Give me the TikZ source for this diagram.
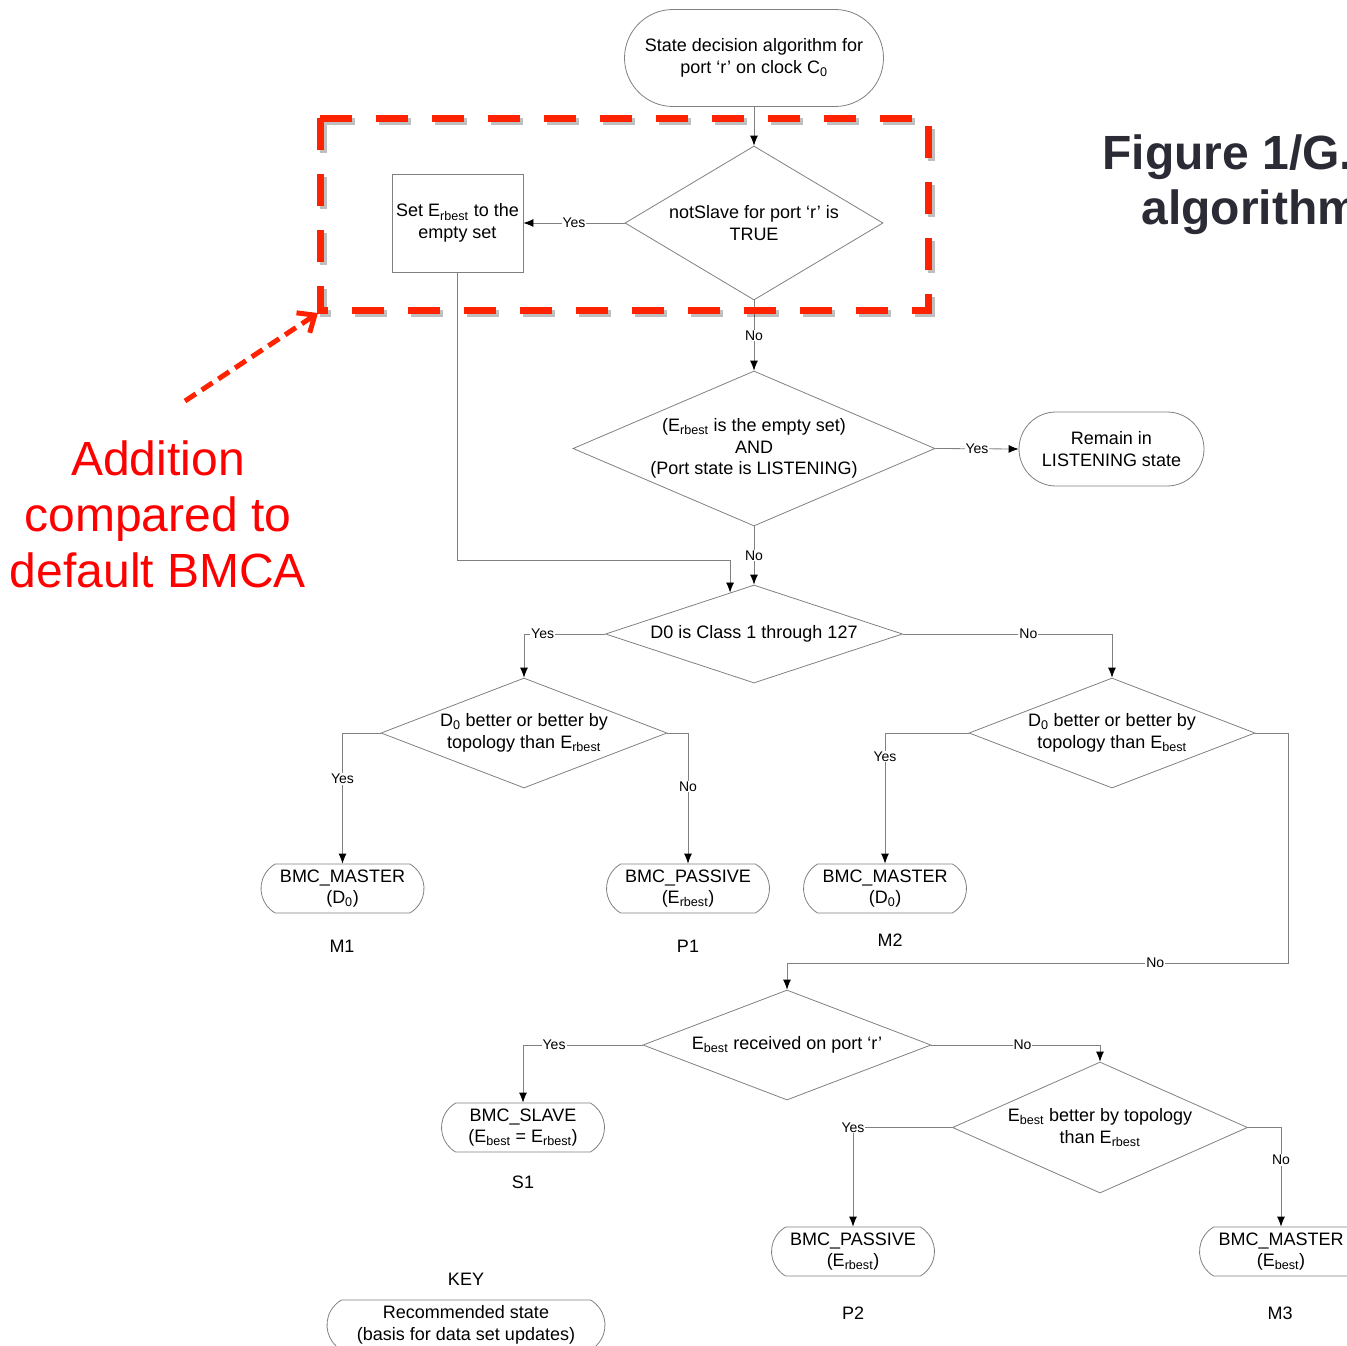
\documentclass[tikz,border=0pt]{standalone}
\usepackage{fontspec}
\setmainfont{Liberation Sans}
\usetikzlibrary{shapes.geometric,shapes.misc,arrows.meta}
\definecolor{linegray}{HTML}{808080}
\definecolor{boxred}{HTML}{FF2200}
\definecolor{titlegray}{HTML}{2B2B36}
\tikzset{>={Latex[length=10pt,width=8pt,color=black]}}
\tikzset{
  decision/.style={diamond, draw=linegray, line width=0.8pt, inner sep=0pt, align=center},
  process/.style={rectangle, draw=linegray, line width=0.8pt, inner sep=2pt, align=center},
  startstop/.style={rounded rectangle, draw=linegray, line width=0.8pt, inner sep=2pt, align=center},
  leaf/.style={rounded rectangle, rounded rectangle arc length=120, draw=linegray, line width=0.8pt,
    inner sep=1pt, align=center, minimum width=165, minimum height=49},
  conn/.style={draw=linegray, line width=0.8pt},
  lbl/.style={fill=white, inner sep=1pt, font=\fontsize{14}{16}\selectfont},
  tag/.style={inner sep=0pt},
  addbox/.style={draw=boxred, line width=7pt, dash pattern=on 32pt off 24pt},
  addshadow/.style={draw=black, opacity=0.25, line width=7pt, dash pattern=on 32pt off 24pt},
  addarrow/.style={draw=boxred, line width=5pt, dash pattern=on 13pt off 7pt,
    -{Straight Barb[length=14pt,width=24pt,line width=5pt]}},
  notetext/.style={text=red, align=center, font=\fontsize{48}{56}\selectfont},
  titletext/.style={text=titlegray, anchor=west, font=\fontsize{48}{55}\bfseries},
}

\begin{document}
\begin{tikzpicture}[x=1pt, y=-1pt, font=\fontsize{18}{21.5}\selectfont]
  \useasboundingbox (0,0) rectangle (1347,1346);

  \node[titletext] (title1) at (1099,157) {Figure 1/G.};
  \node[titletext] (title2) at (1138,212) {algorithm};

  \node[startstop, minimum width=263, minimum height=97] (start) at (754,58)
    {State decision algorithm for\\port `r' on clock C\textsubscript{0}};
  \node[decision, minimum width=258, minimum height=154, aspect=1.67] (d1) at (754,223)
    {notSlave for port `r' is\\TRUE};
  \node[process, minimum width=131, minimum height=98] (setbox) at (457.5,223)
    {Set E\textsubscript{rbest} to the\\empty set};
  \node[decision, minimum width=362, minimum height=155, aspect=2.34] (d2) at (754,448.5)
    {(E\textsubscript{rbest} is the empty set)\\AND\\(Port state is LISTENING)};
  \node[startstop, minimum width=189, minimum height=74] (listen) at (1111.5,449)
    {Remain in\\LISTENING state};
  \node[decision, minimum width=297, minimum height=98, aspect=3.03] (d3) at (754,634)
    {D0 is Class 1 through 127};
  \node[decision, minimum width=286, minimum height=110, aspect=2.6] (d4) at (524,733)
    {D\textsubscript{0} better or better by\\topology than E\textsubscript{rbest}};
  \node[decision, minimum width=286, minimum height=110, aspect=2.6] (d5) at (1112,733)
    {D\textsubscript{0} better or better by\\topology than E\textsubscript{best}};

  \node[leaf] (m1) at (342.5,888.5) {BMC\_MASTER\\(D\textsubscript{0})};
  \node[leaf] (p1) at (688,888.5) {BMC\_PASSIVE\\(E\textsubscript{rbest})};
  \node[leaf] (m2) at (885,888.5) {BMC\_MASTER\\(D\textsubscript{0})};
  \node[tag] (m1tag) at (342,946) {M1};
  \node[tag] (p1tag) at (688,946) {P1};
  \node[tag] (m2tag) at (890,940) {M2};

  \node[decision, minimum width=288, minimum height=110, aspect=2.6] (d6) at (787,1045)
    {E\textsubscript{best} received on port `r'};
  \node[leaf] (s1) at (523,1127.5) {BMC\_SLAVE\\(E\textsubscript{best} = E\textsubscript{rbest})};
  \node[tag] (s1tag) at (523,1182) {S1};
  \node[decision, minimum width=295, minimum height=131, aspect=2.25] (d7) at (1100,1127.5)
    {E\textsubscript{best} better by topology\\than E\textsubscript{rbest}};
  \node[leaf] (p2) at (853,1251.5) {BMC\_PASSIVE\\(E\textsubscript{rbest})};
  \node[leaf] (m3) at (1281,1251.5) {BMC\_MASTER\\(E\textsubscript{best})};
  \node[tag] (p2tag) at (853,1313) {P2};
  \node[tag] (m3tag) at (1280,1313) {M3};

  \node[tag] (key) at (466,1279) {KEY};
  \node[leaf, minimum width=280, minimum height=50] (legend) at (466,1325)
    {Recommended state\\(basis for data set updates)};

  \coordinate (bend) at (0,560);
  \coordinate (rr) at (1288,963);

  \draw[conn,->] (start.south) -- (d1.north);
  \draw[conn,->] (d1.west) -- node[lbl]{Yes} (setbox.east);
  \draw[conn,->] (d1.south) -- node[lbl]{No} (d2.north);
  \draw[conn,->] (d2.east) -- node[lbl]{Yes} (listen.west);
  \draw[conn,->] (d2.south) -- node[lbl]{No} (d3.north);
  \draw[conn,->] (setbox.south) |- (d3.120 |- bend) -- (d3.120);
  \draw[conn,->] (d3.west) -- node[lbl,pos=0.77]{Yes} (d3.west -| d4.north) -- (d4.north);
  \draw[conn,->] (d3.east) -- node[lbl,pos=0.6]{No} (d3.east -| d5.north) -- (d5.north);
  \draw[conn,->] (d4.west) -- (d4.west -| m1.north) -- node[lbl,pos=0.35]{Yes} (m1.north);
  \draw[conn,->] (d4.east) -- (d4.east -| p1.north) -- node[lbl,pos=0.41]{No} (p1.north);
  \draw[conn,->] (d5.west) -- (d5.west -| m2.north) -- node[lbl,pos=0.18]{Yes} (m2.north);
  \draw[conn,->] (d5.east) -| (rr) -- node[lbl,pos=0.265]{No} (rr -| d6.north) -- (d6.north);
  \draw[conn,->] (d6.west) -- node[lbl,pos=0.74]{Yes} (d6.west -| s1.north) -- (s1.north);
  \draw[conn,->] (d6.east) -- node[lbl,pos=0.54]{No} (d6.east -| d7.north) -- (d7.north);
  \draw[conn,->] (d7.west) -- (d7.west -| p2.north) node[lbl]{Yes} -- (p2.north);
  \draw[conn,->] (d7.east) -- (d7.east -| m3.north) -- node[lbl,pos=0.33]{No} (m3.north);

  \draw[addshadow] (323,121) rectangle (931,313);
  \draw[addbox] (320,118) rectangle (928,310);
  \coordinate (notefoot) at (185,401);
  \coordinate (notetip) at (318,313);
  \draw[addarrow] (notefoot) -- (notetip);
  \node[notetext] (note) at (158,514) {Addition\\compared to\\default BMCA};
\end{tikzpicture}
\end{document}
